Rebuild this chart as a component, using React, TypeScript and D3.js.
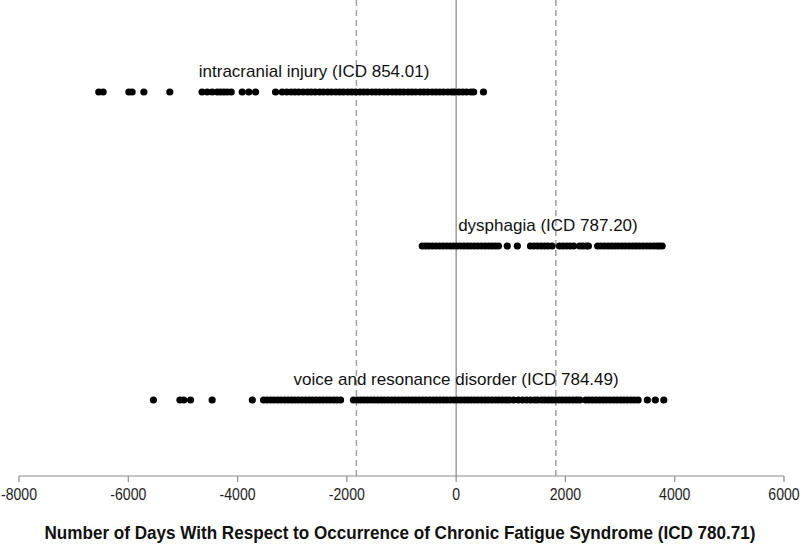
import React from "react";
import * as d3 from "d3";

const xTicks = [-8000, -6000, -4000, -2000, 0, 2000, 4000, 6000];
const thresholds = [-1825, 1825];

const rowNames = [
  "intracranial injury (ICD 854.01)",
  "dysphagia (ICD 787.20)",
  "voice and resonance disorder (ICD 784.49)",
];
const labelX = [-2600, 1680, 0];

const intracranial = [
  -6540, -6460, -5990, -5930, -5715, -5240, -4650, -4555, -4464, -4372, -4312, -4251,
  -4189, -4116, -3915, -3794, -3671, -3305, -3183, -3100, -3020, -2950, -2880, -2800,
  -2720, -2650, -2580, -2500, -2430, -2350, -2280, -2200, -2130, -2060, -1980, -1910,
  -1840, -1760, -1690, -1620, -1540, -1470, -1400, -1320, -1250, -1170, -1100, -1030,
  -960, -880, -810, -740, -660, -590, -520, -440, -370, -300, -230, -150, -80, -30, 50,
  120, 190, 270, 320, 500,
];

const dysphagia = [
  -620, -560, -500, -435, -370, -305, -240, -175, -110, -50, 15, 80, 145, 210, 270, 335,
  400, 465, 530, 595, 655, 720, 775, 935, 1120, 1360, 1425, 1490, 1555, 1620, 1680, 1755,
  1890, 1955, 2020, 2085, 2150, 2260, 2320, 2385, 2420, 2590, 2650, 2715, 2780, 2845,
  2910, 2970, 3035, 3100, 3165, 3230, 3290, 3355, 3420, 3485, 3550, 3615, 3675, 3720,
  3770,
];

const voice = [
  -5540, -5055, -4985, -4860, -4465, -3730, -3525, -3460, -3395, -3335, -3270, -3205,
  -3140, -3075, -3010, -2950, -2885, -2820, -2755, -2690, -2630, -2565, -2500, -2435,
  -2370, -2310, -2245, -2180, -2115, -1880, -1815, -1750, -1690, -1625, -1560, -1500,
  -1435, -1370, -1310, -1245, -1180, -1120, -1055, -990, -930, -865, -800, -740, -675,
  -610, -550, -485, -420, -360, -295, -230, -170, -105, -40, 20, 85, 150, 210, 275, 340,
  400, 465, 530, 590, 655, 720, 780, 845, 910, 970, 1050, 1140, 1215, 1290, 1360, 1435,
  1490, 1565, 1625, 1690, 1755, 1820, 1885, 1945, 2010, 2075, 2140, 2205, 2265, 2370,
  2430, 2495, 2560, 2625, 2690, 2750, 2815, 2880, 2945, 3010, 3070, 3135, 3200, 3265,
  3330, 3500, 3645, 3800,
];

const rows = [intracranial, dysphagia, voice];

const W = 800;
const H = 547;
const axisY = 476;
const rowY = [92, 246, 400];
const labelDy = -15;

export default function App() {
  const x = d3.scaleLinear().domain([-8000, 6000]).range([19, 784]);
  return (
    <svg
      width={W}
      height={H}
      style={{ position: "absolute", left: 0, top: 0, background: "#fff" }}
      fontFamily="'Liberation Sans', Arial, sans-serif"
    >
      <line x1={x(0)} x2={x(0)} y1={0} y2={axisY} stroke="#8c8c8c" strokeWidth={1.3} />
      {thresholds.map((t) => (
        <line
          key={t}
          x1={x(t)}
          x2={x(t)}
          y1={0}
          y2={axisY}
          stroke="#a0a0a0"
          strokeWidth={1.5}
          strokeDasharray="6,4"
        />
      ))}
      <line x1={x(-8000)} x2={x(6000)} y1={axisY} y2={axisY} stroke="#8c8c8c" strokeWidth={1.2} />
      {xTicks.map((t) => (
        <g key={t}>
          <line x1={x(t)} x2={x(t)} y1={axisY} y2={axisY + 6} stroke="#8c8c8c" strokeWidth={1.2} />
          <text
            transform={`translate(${x(t)},${axisY + 24}) scale(0.88,1)`}
            textAnchor="middle"
            fontSize={16}
            fill="#222"
          >
            {t}
          </text>
        </g>
      ))}
      <text
        transform="translate(400,539) scale(0.9,1)"
        textAnchor="middle"
        fontSize={19}
        fontWeight="bold"
        fill="#111"
      >
        Number of Days With Respect to Occurrence of Chronic Fatigue Syndrome (ICD 780.71)
      </text>
      {rows.map((vals, i) => (
        <g key={i}>
          {vals.map((v, j) => (
            <circle key={j} cx={x(v)} cy={rowY[i]} r={3.6} fill="#000" />
          ))}
          <text
            x={x(labelX[i])}
            y={rowY[i] + labelDy}
            textAnchor="middle"
            fontSize={17}
            fill="#111"
          >
            {rowNames[i]}
          </text>
        </g>
      ))}
    </svg>
  );
}
